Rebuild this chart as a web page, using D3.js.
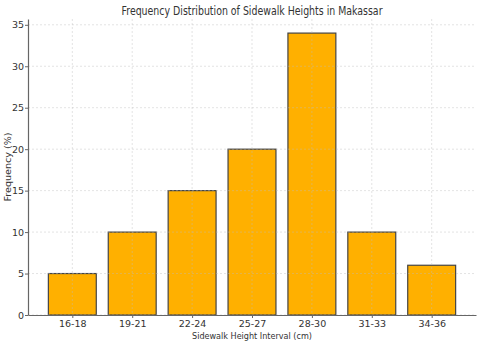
<!DOCTYPE html>
<html>
<head>
<meta charset="utf-8">
<script src="https://cdn.jsdelivr.net/npm/d3@7"></script>
<style>
  body { margin: 0; background: #fff; }
  text { font-family: "DejaVu Sans", sans-serif; fill: #333; }
</style>
</head>
<body>
<div id="chart"></div>
<script>
var categories = ['16-18', '19-21', '22-24', '25-27', '28-30', '31-33', '34-36'];
var frequencies = [5, 10, 15, 20, 34, 10, 6];
var yTicks = [0, 5, 10, 15, 20, 25, 30, 35];

var WIDTH = 480,
    HEIGHT = 347,
    margin = {top: 19, right: 4, bottom: 32, left: 28},
    plotW = WIDTH - margin.left - margin.right,
    plotH = HEIGHT - margin.top - margin.bottom;

var svg = d3.select('#chart').append('svg')
    .attr('width', WIDTH)
    .attr('height', HEIGHT);

var g = svg.append('g')
    .attr('transform', 'translate(' + margin.left + ',' + margin.top + ')');

// matplotlib style: bar width 0.8, 5% margins
var x = d3.scaleLinear().domain([-0.74, 6.74]).range([0, plotW]);
var y = d3.scaleLinear().domain([0, 35.7]).range([plotH, 0]);

// bars
g.selectAll('rect.bar')
  .data(frequencies)
  .enter()
  .append('rect')
  .attr('class', 'bar')
  .attr('x', function (d, i) { return x(i - 0.4); })
  .attr('y', function (d) { return y(d); })
  .attr('width', x(0.4) - x(-0.4))
  .attr('height', function (d) { return plotH - y(d); })
  .attr('fill', '#ffb000')
  .attr('stroke', '#444')
  .attr('stroke-width', 1.2);

// grid on top, light
var grid = g.append('g').attr('class', 'grid');
grid.selectAll('line.hg')
  .data(yTicks)
  .enter()
  .append('line')
  .attr('x1', 0).attr('x2', plotW)
  .attr('y1', function (d) { return y(d); })
  .attr('y2', function (d) { return y(d); })
  .attr('stroke', '#bbb')
  .attr('stroke-opacity', 0.6)
  .attr('stroke-dasharray', '2,2')
  .attr('stroke-width', 0.7);
grid.selectAll('line.vg')
  .data(categories)
  .enter()
  .append('line')
  .attr('x1', function (d, i) { return x(i); })
  .attr('x2', function (d, i) { return x(i); })
  .attr('y1', 0).attr('y2', plotH)
  .attr('stroke', '#bbb')
  .attr('stroke-opacity', 0.6)
  .attr('stroke-dasharray', '2,2')
  .attr('stroke-width', 0.7);

// axes
var xAxis = d3.axisBottom(x)
    .tickValues(d3.range(categories.length))
    .tickFormat(function (i) { return categories[i]; })
    .tickSize(3)
    .tickPadding(2)
    .tickSizeOuter(0);
var yAxis = d3.axisLeft(y)
    .tickValues(yTicks)
    .tickSize(3)
    .tickSizeOuter(0);

var gx = g.append('g')
    .attr('transform', 'translate(0,' + plotH + ')')
    .call(xAxis);
var gy = g.append('g').call(yAxis);

[gx, gy].forEach(function (ax) {
  ax.select('.domain').attr('stroke', '#666').attr('stroke-width', 1.2);
  ax.selectAll('.tick line').attr('stroke', '#666');
  ax.selectAll('.tick text')
    .attr('font-size', 9.5)
    .attr('fill', '#333')
    .style('font-family', '"DejaVu Sans", sans-serif');
});
gy.selectAll('.tick text').attr('x', -4);

// title and labels
svg.append('text')
  .attr('x', margin.left + plotW / 2)
  .attr('y', 15)
  .attr('text-anchor', 'middle')
  .attr('font-size', 11.5)
  .attr('textLength', 261)
  .attr('lengthAdjust', 'spacingAndGlyphs')
  .text('Frequency Distribution of Sidewalk Heights in Makassar');

svg.append('text')
  .attr('x', margin.left + plotW / 2)
  .attr('y', 339)
  .attr('text-anchor', 'middle')
  .attr('font-size', 9.5)
  .attr('textLength', 120)
  .attr('lengthAdjust', 'spacingAndGlyphs')
  .text('Sidewalk Height Interval (cm)');

svg.append('text')
  .attr('transform', 'translate(11,' + (167) + ') rotate(-90)')
  .attr('text-anchor', 'middle')
  .attr('font-size', 9.5)
  .attr('textLength', 69)
  .attr('lengthAdjust', 'spacingAndGlyphs')
  .text('Frequency (%)');
</script>
</body>
</html>
